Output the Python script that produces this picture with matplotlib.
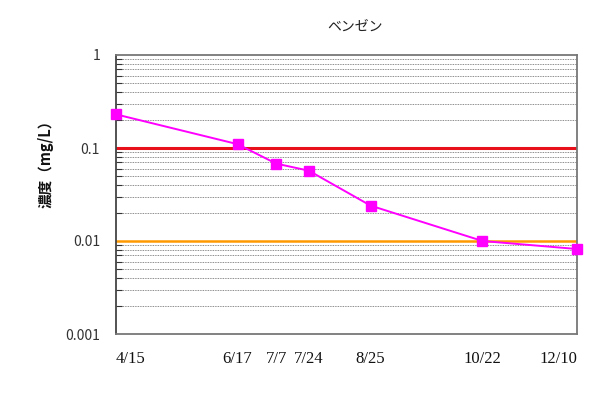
import datetime as dt
import matplotlib
matplotlib.use("Agg")
import matplotlib.pyplot as plt
import matplotlib.dates as mdates
from matplotlib.ticker import LogLocator, NullFormatter, FixedLocator, FixedFormatter

plt.rcParams['font.family'] = ['Noto Sans CJK JP', 'DejaVu Sans']

# Sampling dates and benzene concentrations (mg/L)
dates = ["4/15", "6/17", "7/7", "7/24", "8/25", "10/22", "12/10"]
values = [0.23, 0.11, 0.068, 0.057, 0.024, 0.010, 0.0082]
year = 2008
limit_env = 0.1     # red reference line
limit_std = 0.01    # orange reference line
y_ticks = [1, 0.1, 0.01, 0.001]
y_tick_labels = ["1", "0.1", "0.01", "0.001"]

x = [dt.date(year, int(d.split("/")[0]), int(d.split("/")[1])) for d in dates]
xn = mdates.date2num(x)

fig = plt.figure(figsize=(5.89, 3.94), dpi=100)
ax = fig.add_axes([116/589, 1 - 334/394, (577-116)/589, (334-55)/394])

ax.set_yscale("log")
ax.set_ylim(0.001, 1)
ax.set_xlim(xn[0], xn[-1])

# dotted minor gridlines
ax.yaxis.set_minor_locator(LogLocator(base=10, subs=range(2, 10)))
ax.yaxis.set_minor_formatter(NullFormatter())
ax.grid(which="minor", axis="y", color="#666666", linestyle=(0, (1, 1)), linewidth=0.6)
ax.set_axisbelow(True)

ax.axhline(limit_env, color="#e8101a", linewidth=2.2, zorder=2)
ax.axhline(limit_std, color="#ff9900", linewidth=1.8, zorder=2)

ax.plot(xn, values, color="#ff00ff", linewidth=1.4, marker="s", markersize=7,
        markerfacecolor="#ff00ff", markeredgecolor="#ff00ff", zorder=5, clip_on=False)

ax.yaxis.set_major_locator(FixedLocator(y_ticks))
ax.yaxis.set_major_formatter(FixedFormatter(y_tick_labels))
ax.tick_params(axis="y", which="major", length=0, pad=11.5, labelsize=10, labelcolor="#333333")
ax.tick_params(axis="y", which="minor", length=4, direction="in", color="#333333", width=0.8)

ax.xaxis.set_major_locator(FixedLocator(xn))
ax.xaxis.set_major_formatter(FixedFormatter(dates))
ax.tick_params(axis="x", length=0, pad=12.5)
xlabels = ax.get_xticklabels()
for lab in xlabels:
    lab.set_family(["Liberation Serif", "DejaVu Serif"])
    lab.set_fontsize(12)
    lab.set_color("#111111")
xlabels[0].set_horizontalalignment("left")
xlabels[-1].set_horizontalalignment("right")

for side in ["left", "bottom", "right", "top"]:
    ax.spines[side].set_color("#777777")
    ax.spines[side].set_linewidth(1.3)
ax.spines["left"].set_color("#444444")

fig.text(46/589, 1 - 160/394, "濃度（mg/L）", rotation=90, ha="center", va="center",
         fontsize=10.5, fontweight="bold", color="#111111")
fig.text(355/589, 1 - 27/394, "ベンゼン", ha="center", va="center", fontsize=10, color="#222222")

fig.savefig("out.png", dpi=100, facecolor="white")
